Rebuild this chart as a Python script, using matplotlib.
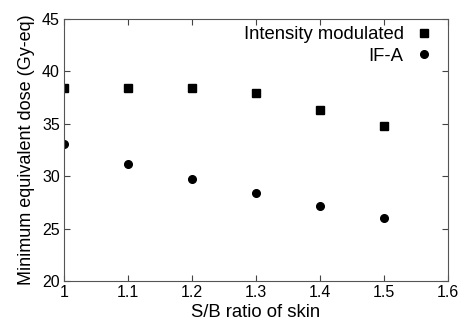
import matplotlib
matplotlib.use("Agg")
import matplotlib.pyplot as plt

plt.rcParams['font.family'] = ['Liberation Sans', 'DejaVu Sans']

sb_ratio = [1.0, 1.1, 1.2, 1.3, 1.4, 1.5]
intensity_modulated = [38.4, 38.4, 38.4, 37.9, 36.3, 34.8]
ifa = [33.1, 31.2, 29.75, 28.4, 27.15, 26.0]
xticks = [1, 1.1, 1.2, 1.3, 1.4, 1.5, 1.6]
xticklabels = ['1', '1.1', '1.2', '1.3', '1.4', '1.5', '1.6']
yticks = [20, 25, 30, 35, 40, 45]

fig = plt.figure(figsize=(4.62, 3.2), dpi=100)
ax = fig.add_axes([64/462, 1 - 281/320, (448-64)/462, (281-19)/320])

ax.plot(sb_ratio, intensity_modulated, 's', color='black', markersize=5.3, label='Intensity modulated')
ax.plot(sb_ratio, ifa, 'o', color='black', markersize=5.5, label='IF-A')

ax.set_xlim(1, 1.6)
ax.set_ylim(20, 45)
ax.set_xticks(xticks)
ax.set_xticklabels(xticklabels)
ax.set_yticks(yticks)
ax.tick_params(direction='in', top=True, right=True, labelsize=11.5, length=4, color='#444444', pad=3)
for s in ax.spines.values():
    s.set_color('#555555')

ax.set_xlabel('S/B ratio of skin', fontsize=13.3, labelpad=3)
ax.set_ylabel('Minimum equivalent dose (Gy-eq)', fontsize=13, labelpad=5)

leg = ax.legend(loc='upper right', frameon=False, markerfirst=False, fontsize=13.3,
                handletextpad=0.6, borderaxespad=0.3, labelspacing=0.25, handlelength=1.0,
                bbox_to_anchor=(0.995, 1.022))
for t in leg.get_texts():
    t.set_ha('right')

fig.savefig('out.png', dpi=100)
